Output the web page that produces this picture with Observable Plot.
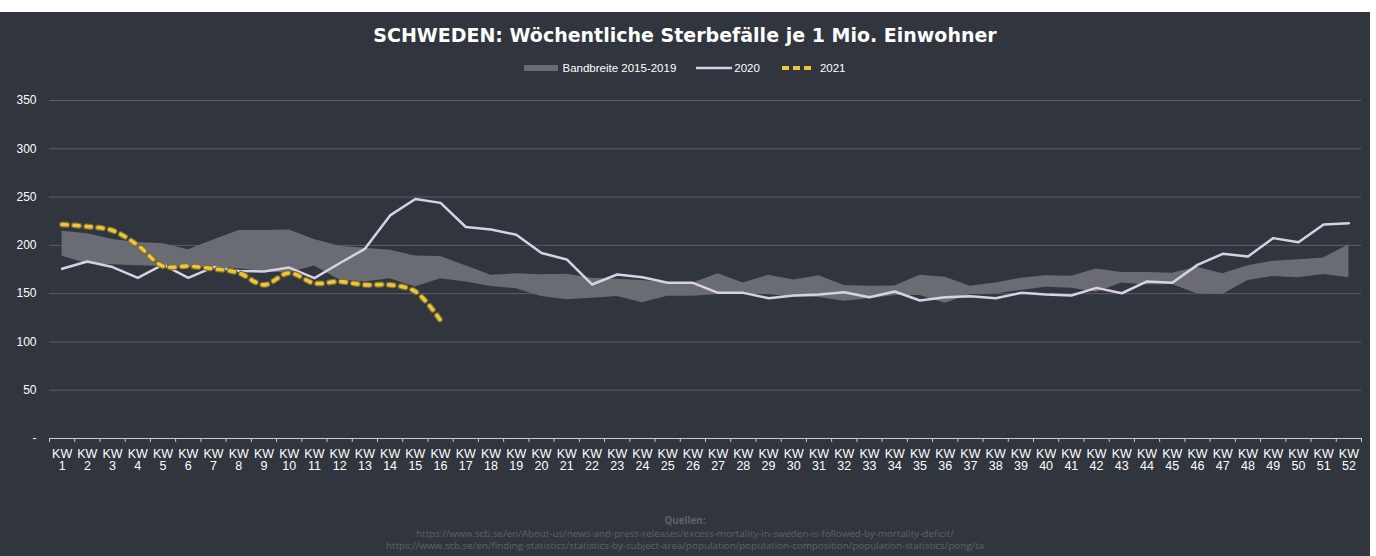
<!DOCTYPE html>
<html><head><meta charset="utf-8">
<script src="https://cdn.jsdelivr.net/npm/d3@7"></script>
<script src="https://cdn.jsdelivr.net/npm/@observablehq/plot@0.6"></script>
<style>
html,body{margin:0;padding:0;background:#fff;}
#panel{position:absolute;left:0;top:12px;width:1370px;height:544px;background:#31353e;font-family:"Liberation Sans",Arial,sans-serif;overflow:hidden}
#title{position:absolute;top:12px;left:0;width:100%;text-align:center;color:#fff;font-family:"DejaVu Sans",sans-serif;font-weight:bold;font-size:19px;line-height:22px}
#legend{position:absolute;top:49px;left:0;width:100%;display:flex;justify-content:center;align-items:center;color:#fff;font-size:11.5px;line-height:14px}
#legend .item{display:flex;align-items:center;margin:0 10px}
#chart{position:absolute;top:73px;left:0}
#caption{position:absolute;top:503px;left:0;width:100%;text-align:center;color:#5f636b;font-family:"Open Sans",sans-serif;font-size:9.8px;line-height:12.5px}
#caption b{font-weight:bold}
</style>
</head><body>
<div id="panel">
  <div id="title">SCHWEDEN: Wöchentliche Sterbefälle je 1 Mio. Einwohner</div>
  <div id="legend">
    <div class="item"><svg width="34" height="6"><rect width="34" height="6" fill="#696c72"/></svg><span style="margin-left:4px">Bandbreite 2015-2019</span></div>
    <div class="item"><svg width="36" height="4"><line x1="0" x2="36" y1="2" y2="2" stroke="#d9cfe6" stroke-width="2.5"/></svg><span style="margin-left:2px">2020</span></div>
    <div class="item"><svg width="34" height="6"><line x1="2" x2="32" y1="3" y2="3" stroke="#edc53f" stroke-width="4" stroke-dasharray="7,4"/></svg><span style="margin-left:6px">2021</span></div>
  </div>
  <div id="chart"></div>
  <div id="caption"><b>Quellen:</b><br>https://www.scb.se/en/About-us/news-and-press-releases/excess-mortality-in-sweden-is-followed-by-mortality-deficit/<br>https://www.scb.se/en/finding-statistics/statistics-by-subject-area/population/population-composition/population-statistics/pong/ta</div>
</div>
<script>
const kw = [1,2,3,4,5,6,7,8,9,10,11,12,13,14,15,16,17,18,19,20,21,22,23,24,25,26,27,28,29,30,31,32,33,34,35,36,37,38,39,40,41,42,43,44,45,46,47,48,49,50,51,52];
const bandHigh = [214.7,212,206,203,201.6,195.5,205.5,215.4,215.4,216,206,199,197,195,189,188.5,179,169,170.5,169.5,170,166,165,163.5,161,161,170.5,161,169,164,168.5,158.5,157.7,158,169,167,157.7,161,166,168.5,168,175.4,172,172,171,177.4,170.5,179,183.6,185,187,200.5];
const bandLow = [188.8,181,180,179,178,177,177,175.8,172.5,171.5,178.5,164,162,165.5,157,165.3,162,157.4,155,147,143.6,145.3,147,140.5,147.4,147.4,149,149,149,146.3,146,142.2,144.8,148,148,140,149,149.7,153.3,156.7,155.7,151.5,161,159,159.5,149.7,149,163.6,167.8,166.4,169.8,166.4];
const y2020 = [175.7,183.3,177.5,166.4,180,166.4,177.5,173.5,173,177,166,181.5,196.4,231,248,244,219,216.4,211,192,185.4,159.5,169.8,167,161.2,161.2,150.8,150.8,145.3,148.1,149,151.5,146.3,152.2,142.9,146.3,147.4,145.3,150.8,149,148.1,156,150.4,162.6,161.2,179.8,191.2,188.5,207.5,203.3,221.6,223];
const y2021 = [221.6,219.5,215.4,200,178.5,178.5,175.8,171.5,159.1,171.5,160.8,162.5,159.1,159.1,152.2,122.2];
const yTicks = [0,50,100,150,200,250,300,350];

const rows = kw.map((k,i)=>({kw:k, lo:bandLow[i], hi:bandHigh[i], v:y2020[i]}));
const rows21 = y2021.map((v,i)=>({kw:kw[i], v}));
const bounds = [kw[0]-0.5, ...kw.map(k=>k+0.5)];

const chart = Plot.plot({
  width:1370, height:395,
  marginLeft:49, marginRight:9, marginTop:15, marginBottom:42,
  style:{background:"transparent", color:"#fff", fontFamily:"'Liberation Sans',Arial,sans-serif", fontSize:"12px"},
  x:{domain:[0.5,52.5]},
  y:{domain:[0,350]},
  marks:[
    Plot.gridY(yTicks.filter(d=>d>0), {stroke:"#5b5f67", strokeOpacity:1, strokeWidth:1}),
    Plot.areaY(rows, {x:"kw", y1:"lo", y2:"hi", fill:"#696c72"}),
    Plot.ruleY([0], {stroke:"#c9cbce", strokeWidth:1}),
    Plot.axisX(bounds, {tickSize:4, tickFormat:()=>"", stroke:"#c9cbce", label:null}),
    Plot.axisX(kw, {tickSize:0, tickPadding:10, tickFormat:k=>"KW\n"+k, fill:"#fff", fontSize:12.5, lineHeight:1.02, label:null}),
    Plot.axisY(yTicks, {tickSize:0, tickPadding:13, tickFormat:d=>d===0?"-":String(d), fill:"#fff", fontSize:12, label:null}),
    Plot.line(rows, {x:"kw", y:"v", stroke:"#d9cfe6", strokeWidth:2.5}),
    Plot.line(rows21, {x:"kw", y:"v", stroke:"#7e6f2c", strokeWidth:6, strokeDasharray:"5,7", strokeLinecap:"round", curve:"catmull-rom"}),
    Plot.line(rows21, {x:"kw", y:"v", stroke:"#edc53f", strokeWidth:3.6, strokeDasharray:"5,7", strokeLinecap:"round", curve:"catmull-rom"})
  ]
});
document.getElementById("chart").appendChild(chart);
</script>
</body></html>
